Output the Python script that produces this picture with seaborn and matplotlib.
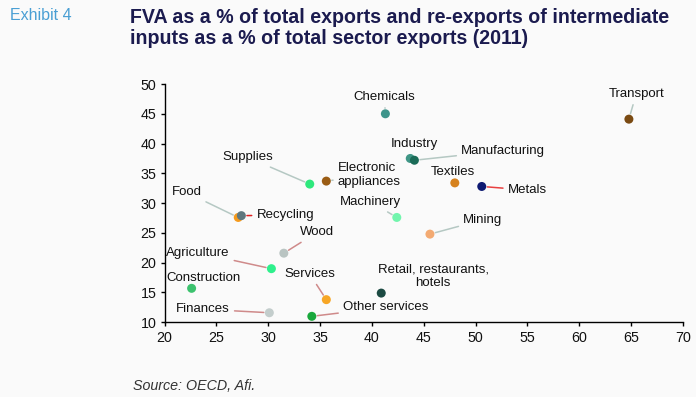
import matplotlib
matplotlib.use("Agg")
import matplotlib.pyplot as plt
import seaborn as sns
import pandas as pd

sectors = ["Chemicals", "Supplies", "Electronic\nappliances", "Food", "Recycling",
           "Machinery", "Wood", "Agriculture", "Construction", "Finances",
           "Services", "Other services", "Retail, restaurants,\nhotels", "Industry",
           "Manufacturing", "Textiles", "Metals", "Mining", "Transport"]
fva = [41.3, 34.0, 35.6, 27.1, 27.4, 42.4, 31.5, 30.3, 22.6, 30.1,
       35.6, 34.2, 40.9, 43.7, 44.1, 48.0, 50.6, 45.6, 64.8]
reexports = [45.0, 33.2, 33.7, 27.6, 27.9, 27.6, 21.6, 19.0, 15.7, 11.6,
             13.8, 11.0, 14.9, 37.5, 37.2, 33.4, 32.8, 24.8, 44.1]
colors = ["#3d948a", "#2ee87c", "#9a5c14", "#f59a1c", "#5f777e",
          "#72f5ad", "#b9c4c2", "#2ef08c", "#3cc26e", "#c3cdcc",
          "#f7a625", "#19a83c", "#1b4a42", "#3f9686", "#1a6b57",
          "#d6821e", "#0e1a72", "#f3aa72", "#7a4a12"]
label_x = [41.2, 28.0, 36.7, 22.1, 28.85, 39.9, 34.7, 23.2, 23.7, 23.7,
           34.0, 37.2, 45.9, 44.1, 48.6, 47.8, 53.1, 48.8, 65.5]
label_y = [47.8, 37.7, 34.7, 31.8, 28.0, 30.2, 25.1, 21.7, 17.4, 12.2,
           18.1, 12.5, 17.7, 39.9, 38.8, 35.3, 32.2, 27.2, 48.3]
label_ha = ["center", "center", "left", "center", "left", "center", "center", "center",
            "center", "center", "center", "left", "center", "center", "left", "center",
            "left", "left", "center"]
line_colors = ["#b5c8c3", "#b5c8c3", "#b5c8c3", "#b5c8c3", "#e02020",
               "#b5c8c3", "#cf8a8a", "#cf8a8a", None, "#cf8a8a",
               "#cf8a8a", "#cf8a8a", "#cf8a8a", "#b5c8c3", "#b5c8c3",
               "#b5c8c3", "#e84040", "#b5c8c3", "#b5c8c3"]
x_ticks = [20, 25, 30, 35, 40, 45, 50, 55, 60, 65, 70]
y_ticks = [10, 15, 20, 25, 30, 35, 40, 45, 50]

df = pd.DataFrame({"sector": sectors, "fva": fva, "reexports": reexports})

sns.set_style("ticks")
bg = "#fafafa"
plt.rcParams["font.family"] = ["Liberation Sans", "DejaVu Sans"]

fig = plt.figure(figsize=(6.96, 3.97), dpi=100, facecolor=bg)
ax = fig.add_axes([0.2366, 0.1882, 0.981 - 0.2366, 0.7884 - 0.1882])
ax.set_facecolor(bg)

sns.scatterplot(data=df, x="fva", y="reexports", hue="sector",
                palette=dict(zip(sectors, colors)), s=42, linewidth=0,
                legend=False, ax=ax, zorder=5)

for i, name in enumerate(sectors):
    kw = dict(fontsize=9.5, color="#111111", ha=label_ha[i], va="center",
              multialignment="center" if "Retail" in name else "left",
              linespacing=1.2, zorder=3)
    if line_colors[i] is None:
        ax.annotate(name, xy=(fva[i], reexports[i]), xytext=(label_x[i], label_y[i]),
                    textcoords="data", **kw)
    else:
        ax.annotate(name, xy=(fva[i], reexports[i]), xytext=(label_x[i], label_y[i]),
                    textcoords="data",
                    arrowprops=dict(arrowstyle="-", color=line_colors[i], lw=1.1,
                                    shrinkA=1, shrinkB=4),
                    **kw)

ax.set_xlim(20, 70)
ax.set_ylim(10, 50)
ax.set_xticks(x_ticks)
ax.set_yticks(y_ticks)
ax.set_xlabel("")
ax.set_ylabel("")
ax.tick_params(axis="both", labelsize=10.3, length=3, width=1, colors="black", pad=3)
for t in ax.get_xticklabels() + ax.get_yticklabels():
    t.set_color("#111111")
sns.despine(ax=ax)
for sp in ["left", "bottom"]:
    ax.spines[sp].set_color("black")
    ax.spines[sp].set_linewidth(1.0)

fig.text(10 / 696, 1 - 15 / 397, "Exhibit 4", fontsize=11.5, color="#4a9fd4",
         ha="left", va="center")
fig.text(130 / 696, 1 - 28 / 397,
         "FVA as a % of total exports and re-exports of intermediate\ninputs as a % of total sector exports (2011)",
         fontsize=14.1, fontweight="bold", color="#1b1b4f", ha="left", va="center",
         linespacing=1.12)
fig.text(133 / 696, 1 - 386 / 397, "Source: OECD, Afi.", fontsize=10.3, style="italic",
         color="#333333", ha="left", va="center")

fig.savefig("out.png", dpi=100, facecolor=bg)
